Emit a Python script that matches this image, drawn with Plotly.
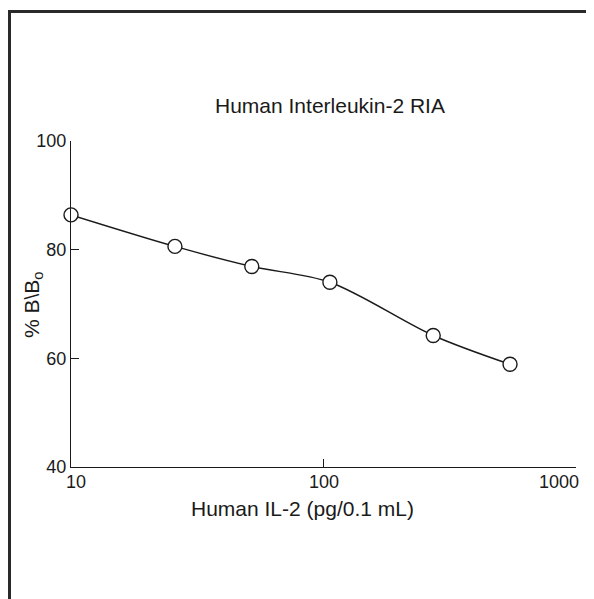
import math
import plotly.graph_objects as go

# Data
concentration = [10, 25.8, 52, 106, 272, 548]   # Human IL-2 (pg/0.1 mL)
percent_b_b0 = [86.4, 80.6, 76.9, 74.0, 64.2, 58.9]  # % B/Bo

x_tickvals = [10, 100, 1000]
x_ticktext = ["10", "100", "1000"]
y_tickvals = [40, 60, 80, 100]
y_ticktext = ["40", "60", "80", "100"]

# the page body has an 8px margin, so the figure is drawn 8px in from the window edge
OFF = 8
W, H = 594 - OFF, 599 - OFF
L, R, T, B = 71 - OFF, 18, 141 - OFF, 132
pw, ph = W - L - R, H - T - B

def px_x(px):  # window pixel -> paper
    return (px - OFF - L) / pw

def px_y(py):
    return (H - B - (py - OFF)) / ph

ink = "#1a1a1a"
font = "Liberation Sans, Arial, Helvetica, sans-serif"

fig = go.Figure()
fig.add_trace(go.Scatter(
    x=concentration, y=percent_b_b0,
    mode="lines+markers",
    line=dict(color=ink, width=1.4, shape="spline", smoothing=0.9),
    marker=dict(symbol="circle", size=14, color="white",
                line=dict(color=ink, width=1.4)),
    cliponaxis=False,
    showlegend=False,
))

# x tick labels: first one left-aligned, last one right-aligned (as in the reference)
anchors = ["left", "center", "right"]
shifts = [-7, 0, 5]
tick_annots = [
    dict(text=t, xref="x", yref="paper", x=math.log10(v), y=px_y(482),
         xanchor=a, yanchor="middle", xshift=s, showarrow=False, font=dict(size=18))
    for v, t, a, s in zip(x_tickvals, x_ticktext, anchors, shifts)
]

fig.update_layout(
    width=W, height=H,
    margin=dict(l=L, r=R, t=T, b=B),
    paper_bgcolor="white", plot_bgcolor="white",
    font=dict(family=font, color=ink, size=18),
    xaxis=dict(type="log", range=[0.99995, 3.00005], tickvals=x_tickvals,
               showticklabels=False,
               ticks="inside", ticklen=8, tickwidth=1.4, tickcolor=ink,
               showline=True, linecolor=ink, linewidth=1.4, showgrid=False,
               zeroline=False),
    yaxis=dict(range=[39.999, 100.001], tickvals=y_tickvals, ticktext=y_ticktext,
               ticks="inside", ticklen=8, tickwidth=1.4, tickcolor=ink,
               showline=True, linecolor=ink, linewidth=1.4, showgrid=False,
               zeroline=False, tickfont=dict(size=18)),
    annotations=tick_annots + [
        dict(text="Human Interleukin-2 RIA", xref="paper", yref="paper",
             x=px_x(330), y=px_y(105), showarrow=False,
             xanchor="center", yanchor="middle", font=dict(size=21)),
        dict(text="Human IL-2 (pg/0.1 mL)", xref="paper", yref="paper",
             x=px_x(302), y=px_y(508), showarrow=False,
             xanchor="center", yanchor="middle", font=dict(size=21)),
        dict(text="% B\\B<sub>o</sub>", xref="paper", yref="paper",
             x=px_x(33), y=px_y(305), showarrow=False, textangle=-90,
             xanchor="center", yanchor="middle", font=dict(size=21)),
    ],
    shapes=[
        dict(type="line", xref="paper", yref="paper",
             x0=px_x(9.5), x1=px_x(9.5), y0=px_y(10), y1=px_y(H + OFF),
             line=dict(color="#2a2a2a", width=3)),
        dict(type="line", xref="paper", yref="paper",
             x0=px_x(8), x1=px_x(W + OFF), y0=px_y(11.5), y1=px_y(11.5),
             line=dict(color="#2a2a2a", width=3)),
    ],
)

fig.write_html("out.html")
